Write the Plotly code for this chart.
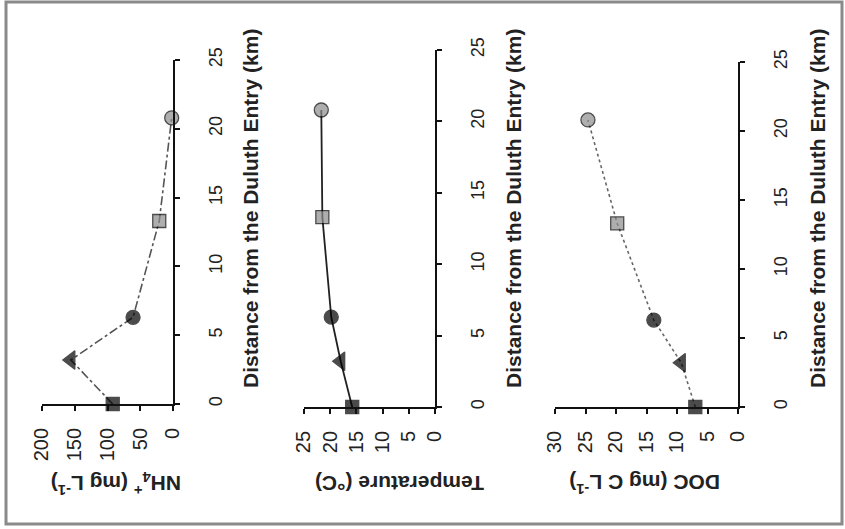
import plotly.graph_objects as go

# Sampling stations along the transect (km from the Duluth Entry)
distance_km = [0, 3.2, 6.3, 13.3, 20.8]

# Measured values at each station
nh4_mg_l = [92, 156, 61, 21, 2]
temperature_c = [15.8, 18.0, 19.8, 21.5, 21.7]
doc_mg_c_l = [7.0, 9.3, 13.8, 19.8, 24.6]

# Station symbols (same station -> same symbol in every panel)
station_symbols = ["square", "triangle-left", "circle", "square", "circle"]
station_fills = ["#000000", "#000000", "#000000", "#8c8c8c", "#8c8c8c"]

distance_ticks = [0, 5, 10, 15, 20, 25]
nh4_ticks = [0, 50, 100, 150, 200]
temp_ticks = [0, 5, 10, 15, 20, 25]
doc_ticks = [0, 5, 10, 15, 20, 25, 30]

W, H = 845, 529
FONT = "Liberation Sans, Arial, sans-serif"


def xdom(left, right):
    return [left / W, right / W]


def ydom(top, bottom):
    return [1 - bottom / H, 1 - top / H]


marker = dict(
    symbol=station_symbols,
    color=station_fills,
    size=[13, 16, 14, 13, 14],
    line=dict(color="#000000", width=1.3),
)

fig = go.Figure()

fig.add_trace(go.Scatter(
    x=nh4_mg_l, y=distance_km, xaxis="x", yaxis="y", mode="lines+markers",
    line=dict(color="#555555", width=1.6, dash="dashdot"),
    marker=marker, cliponaxis=False, showlegend=False,
))
fig.add_trace(go.Scatter(
    x=temperature_c, y=distance_km, xaxis="x2", yaxis="y2", mode="lines+markers",
    line=dict(color="#222222", width=1.8),
    marker=marker, cliponaxis=False, showlegend=False,
))
fig.add_trace(go.Scatter(
    x=doc_mg_c_l, y=distance_km, xaxis="x3", yaxis="y3", mode="lines+markers",
    line=dict(color="#666666", width=1.6, dash="dot"),
    marker=marker, cliponaxis=False, showlegend=False,
))

common_axis = dict(
    showline=True, linecolor="#111111", linewidth=1.8,
    ticks="outside", ticklen=5, tickwidth=1.5, tickcolor="#111111",
    showgrid=False, zeroline=False, tickangle=-90, automargin=False,
)

# (x-left, x-right, y-top, y-bottom) of each plotting area in pixels
panels = [
    (42, 173, 60, 404, [200, 0], nh4_ticks),
    (304, 435, 50, 407, [25, 0], temp_ticks),
    (555, 738, 62, 407, [30, 0], doc_ticks),
]

layout_axes = {}
for i, (xl, xr, yt, yb, xr_range, xticks) in enumerate(panels, start=1):
    sx = "" if i == 1 else str(i)
    layout_axes["xaxis" + sx] = dict(
        common_axis, domain=xdom(xl, xr), range=xr_range,
        tickvals=xticks, anchor="y" + sx, ticklabelstandoff=9,
        tickfont=dict(family=FONT, size=20, color="#222222"),
    )
    layout_axes["yaxis" + sx] = dict(
        common_axis, domain=ydom(yt, yb), range=[0, 25],
        tickvals=distance_ticks, anchor="x" + sx, side="right",
        ticklabelstandoff=20,
        tickfont=dict(family=FONT, size=18, color="#222222"),
    )

title_font = dict(family=FONT, size=21, color="#222222")
annotations = []

# Distance titles, reading bottom to top
for cx in (250, 513, 817):
    annotations.append(dict(
        text="<b>Distance from the Duluth Entry (km)</b>",
        x=cx / W, y=1 - 209 / H, xref="paper", yref="paper",
        textangle=-90, showarrow=False, font=title_font,
        xanchor="center", yanchor="middle",
    ))

# Variable titles, upside down below each panel
for cx, label in (
    (116, "<b>NH<sub>4</sub><sup>+</sup> (mg L<sup>-1</sup>)</b>"),
    (400, "<b>Temperature (°C)</b>"),
    (645, "<b>DOC (mg C L<sup>-1</sup>)</b>"),
):
    annotations.append(dict(
        text=label, x=cx / W, y=1 - 484 / H, xref="paper", yref="paper",
        textangle=180, showarrow=False,
        font=dict(family=FONT, size=21, color="#222222"),
        xanchor="center", yanchor="middle",
    ))

fig.update_layout(
    width=W, height=H,
    margin=dict(l=0, r=0, t=0, b=0, autoexpand=False),
    paper_bgcolor="white", plot_bgcolor="white",
    annotations=annotations,
    shapes=[dict(
        type="rect", xref="paper", yref="paper",
        x0=6 / W, x1=842 / W, y0=1 - 524 / H, y1=1 - 2 / H,
        line=dict(color="#8a8a8a", width=3), fillcolor="rgba(0,0,0,0)",
    )],
    **layout_axes,
)

fig.write_html("out.html")
